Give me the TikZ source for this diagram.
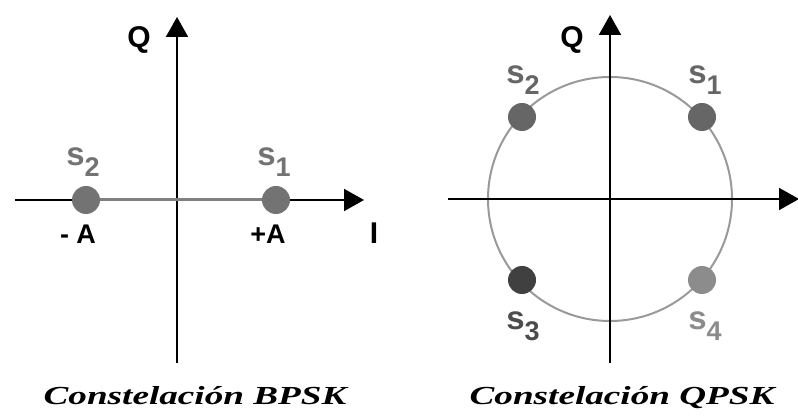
\documentclass[tikz,border=0pt]{standalone}
\usepackage{fontspec}
\setmainfont{Liberation Serif}
\setsansfont{Liberation Sans}
\usetikzlibrary{arrows.meta}
\newcommand{\sig}[1]{{\fontsize{33}{33}\selectfont s}\raisebox{-11pt}{#1}}
\newcommand{\wide}[1]{\scalebox{1.43}[1]{#1}}
\begin{document}
\begin{tikzpicture}[x=1pt,y=-1pt,
  axis/.style={line width=2pt,black,-{Triangle[length=20pt,width=22pt]}},
  dot/.style={circle,inner sep=0pt,minimum size=28pt},
  lbl/.style={font=\sffamily\bfseries\fontsize{27}{27}\selectfont,inner sep=0pt},
  axlbl/.style={font=\sffamily\bfseries\fontsize{30}{30}\selectfont,inner sep=0pt},
  titletext/.style={font=\rmfamily\bfseries\itshape\fontsize{26}{26}\selectfont,inner sep=0pt,anchor=base}]
\useasboundingbox (0,0) rectangle (798,419);
% ---------- BPSK ----------
\coordinate (bL) at (15,200);
\coordinate (bR) at (364,200);
\coordinate (bB) at (177,363);
\coordinate (bT) at (177,17);
\draw[axis] (bL) -- (bR);
\draw[axis] (bB) -- (bT);
\node[dot,fill=black!55] (b2) at (86,200) {};
\node[dot,fill=black!55] (b1) at (276,200) {};
\draw[line width=3pt,black!50] (b2) -- (b1);
\node[axlbl] (bQ) at (139,40) {Q};
\node[axlbl] (bI) at (374,233) {I};
\node[lbl,text=black!55] (bs2) at (83,162) {\sig{2}};
\node[lbl,text=black!55] (bs1) at (274,162) {\sig{1}};
\node[lbl] (bmA) at (78,234) {- A};
\node[lbl] (bpA) at (268,234) {+A};
\node[titletext] (bcap) at (195,405) {\wide{Constelación BPSK}};
% ---------- QPSK ----------
\coordinate (qL) at (448,199);
\coordinate (qR) at (799,199);
\coordinate (qB) at (610,363);
\coordinate (qT) at (610,15);
\node[circle,draw=black!40,line width=2pt,minimum size=244pt,inner sep=0pt] (qc) at (610,199) {};
\draw[axis] (qL) -- (qR);
\draw[axis] (qB) -- (qT);
\node[dot,fill=black!60] (q1) at (702,117) {};
\node[dot,fill=black!60] (q2) at (522,117) {};
\node[dot,fill=black!75] (q3) at (522,280) {};
\node[dot,fill=black!45] (q4) at (702,280) {};
\node[axlbl] (qQ) at (572,40) {Q};
\node[lbl,text=black!60] (qs2) at (523,80) {\sig{2}};
\node[lbl,text=black!60] (qs1) at (705,80) {\sig{1}};
\node[lbl,text=black!70] (qs3) at (523,326) {\sig{3}};
\node[lbl,text=black!45] (qs4) at (705,326) {\sig{4}};
\node[titletext] (qcap) at (622,405) {\wide{Constelación QPSK}};
\end{tikzpicture}
\end{document}
